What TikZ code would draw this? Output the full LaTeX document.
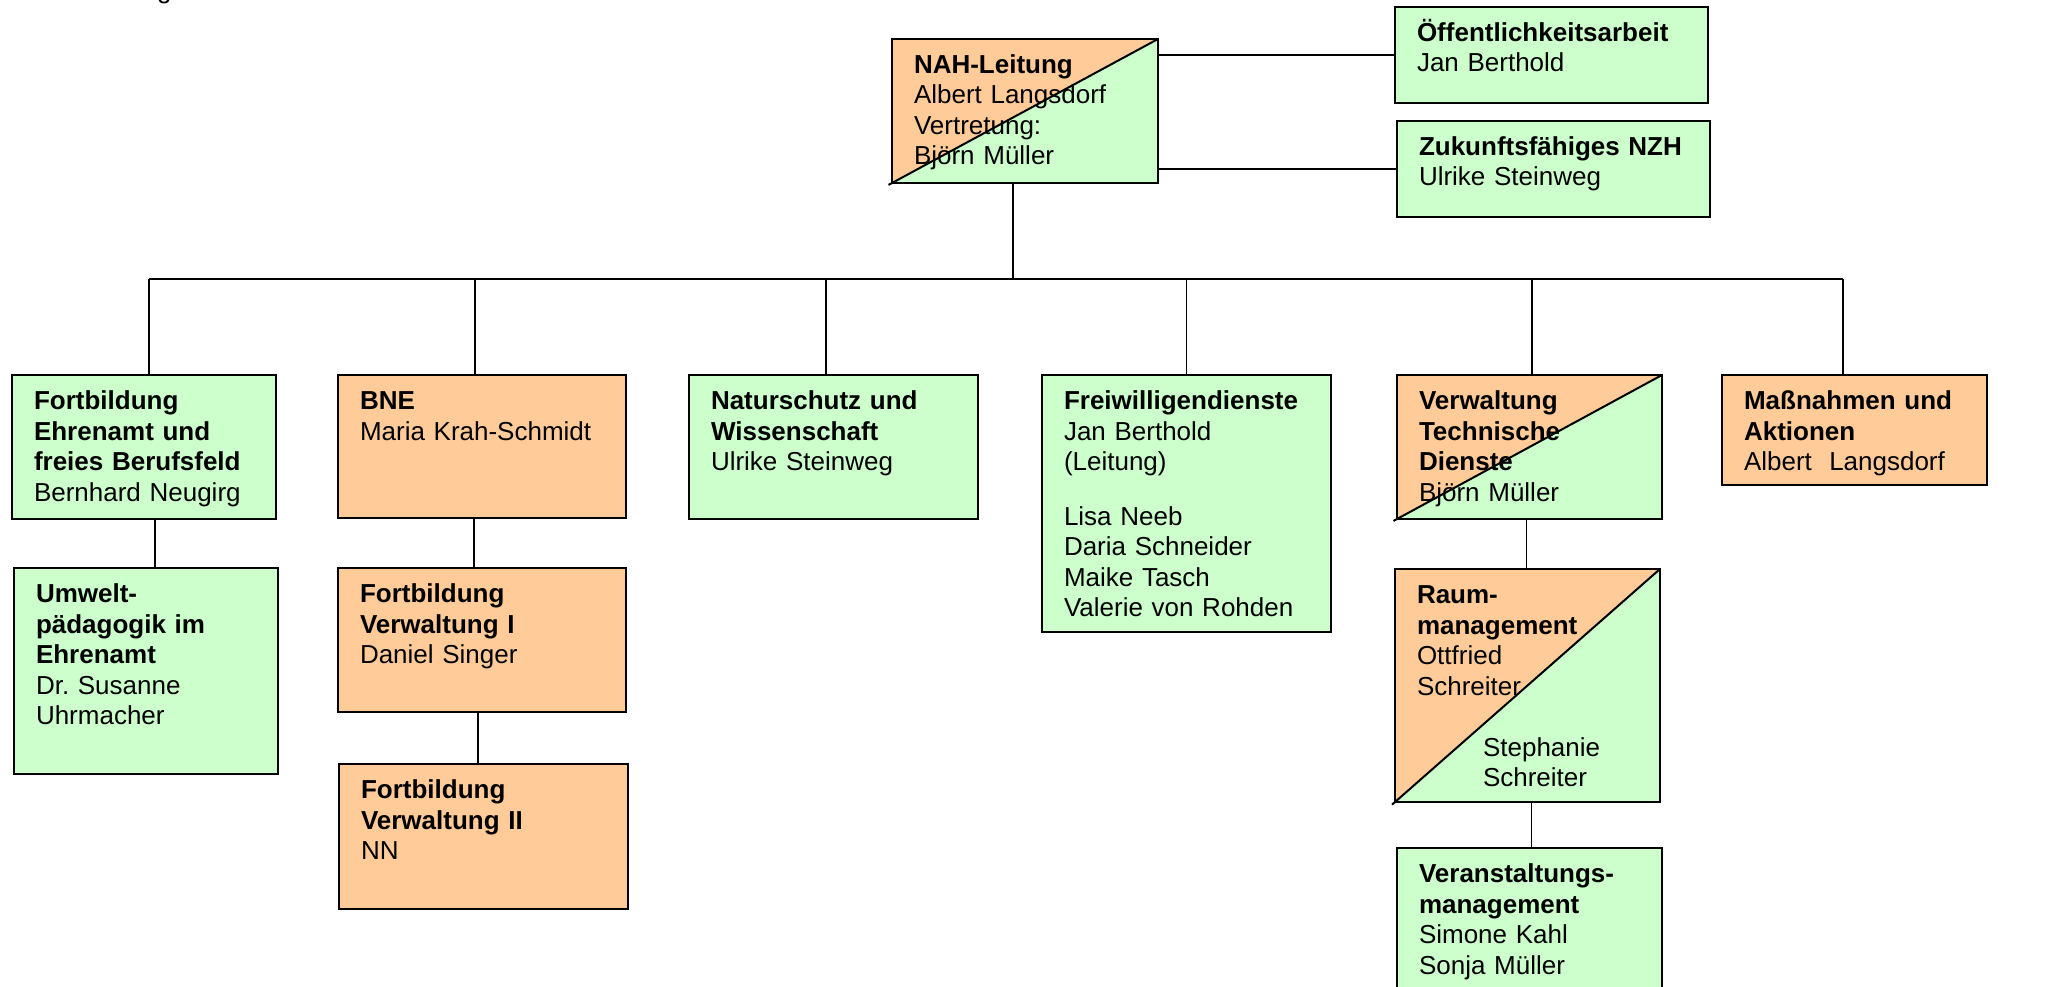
\documentclass[tikz,border=0pt]{standalone}
\usepackage{fontspec}
\setmainfont{Liberation Sans}
\usetikzlibrary{backgrounds}
\definecolor{peach}{RGB}{255,204,153}
\definecolor{mint}{RGB}{204,255,204}
\tikzset{
    unit/.style={draw, line width=2.2pt, anchor=north west, inner xsep=22pt,
        inner ysep=0pt, outer sep=0pt, align=left, text height=34.5pt,
        font=\fontsize{26pt}{30.5pt}\selectfont},
    peachbox/.style={unit, fill=peach},
    mintbox/.style={unit, fill=mint},
    link/.style={line width=1.5pt}
}
\begin{document}
\begin{tikzpicture}[x=1pt, y=-1pt]
    \useasboundingbox (0,0) rectangle (2060,987);
    % cut off title
    \node [anchor=base west, inner sep=0pt, font=\fontsize{26pt}{30.5pt}\selectfont] (title) at (157,-1.5) {g};
    % head and side units
    \node [unit, text width=222pt, text depth=109.5pt] (nah) at (892,39)
        {\textbf{NAH-Leitung}\\Albert Langsdorf\\Vertretung:\\Björn Müller};
    \node [mintbox, text width=269pt, text depth=61.5pt] (oeff) at (1395,7)
        {\textbf{Öffentlichkeitsarbeit}\\Jan Berthold};
    \node [mintbox, text width=269pt, text depth=61.5pt] (zuk) at (1397,121)
        {\textbf{Zukunftsfähiges NZH}\\Ulrike Steinweg};
    % departments
    \node [mintbox, text width=220pt, text depth=109.5pt] (fort) at (12,375)
        {\textbf{Fortbildung}\\\textbf{Ehrenamt und}\\\textbf{freies Berufsfeld}\\Bernhard Neugirg};
    \node [peachbox, text width=244pt, text depth=108.5pt] (bne) at (338,375)
        {\textbf{BNE}\\Maria Krah-Schmidt};
    \node [mintbox, text width=245pt, text depth=109.5pt] (natur) at (689,375)
        {\textbf{Naturschutz und}\\\textbf{Wissenschaft}\\Ulrike Steinweg};
    \node [mintbox, text width=245pt, text depth=222.5pt] (frei) at (1042,375)
        {\textbf{Freiwilligendienste}\\Jan Berthold\\(Leitung)\\[24pt]Lisa Neeb\\Daria Schneider\\Maike Tasch\\Valerie von Rohden};
    \node [unit, text width=221pt, text depth=109.5pt] (verw) at (1397,375)
        {\textbf{Verwaltung}\\\textbf{Technische}\\\textbf{Dienste}\\Björn Müller};
    \node [peachbox, text width=221pt, text depth=75.5pt] (mass) at (1722,375)
        {\textbf{Maßnahmen und}\\\textbf{Aktionen}\\Albert\ \ Langsdorf};
    % sub units
    \node [mintbox, text width=220pt, text depth=171.5pt] (umw) at (14,568)
        {\textbf{Umwelt-}\\\textbf{pädagogik im}\\\textbf{Ehrenamt}\\Dr.\ Susanne\\Uhrmacher};
    \node [peachbox, text width=244pt, text depth=109.5pt] (fv1) at (338,568)
        {\textbf{Fortbildung}\\\textbf{Verwaltung I}\\Daniel Singer};
    \node [peachbox, text width=245pt, text depth=110.5pt] (fv2) at (339,764)
        {\textbf{Fortbildung}\\\textbf{Verwaltung II}\\NN};
    \node [unit, text width=221pt, text depth=198.5pt] (raum) at (1395,569)
        {\textbf{Raum-}\\\textbf{management}\\Ottfried\\Schreiter\\[30.5pt]\hspace*{66pt}Stephanie\\\hspace*{66pt}Schreiter};
    \node [mintbox, text width=221pt, text depth=135.5pt] (veran) at (1397,848)
        {\textbf{Veranstaltungs-}\\\textbf{management}\\Simone Kahl\\Sonja Müller};
    % split units
    \begin{scope}[on background layer]
        \foreach \n in {nah, verw, raum} {
            \fill [peach] (\n.north west) rectangle (\n.south east);
            \fill [mint] (\n.south west) -- (\n.south east) -- (\n.north east) -- cycle;
            \draw [line width=2pt, shorten <=-4pt] (\n.south west) -- (\n.north east);
        }
    \end{scope}
    % connectors
    \draw [link] (nah.east |- oeff.west) -- (oeff.west);
    \draw [link] (nah.east |- zuk.west) -- (zuk.west);
    \coordinate (hub) at (1013,279);
    \draw [link] (hub |- nah.south) -- (hub);
    \draw [link] ([xshift=5pt]fort.north |- hub) -- ([xshift=-11.5pt]mass.north |- hub);
    \foreach \n/\dx in {fort/5, bne/-7, natur/-7.5, frei/0, verw/2.5, mass/-11.5}
        \draw [link] ([xshift=\dx pt]\n.north) -- ([xshift=\dx pt]\n.north |- hub);
    \draw [link] ([xshift=11pt]fort.south) -- ([xshift=11pt]fort.south |- umw.north);
    \draw [link] ([xshift=-8pt]bne.south) -- ([xshift=-8pt]bne.south |- fv1.north);
    \draw [link] ([xshift=-4pt]fv1.south) -- ([xshift=-4pt]fv1.south |- fv2.north);
    \draw [link] ([xshift=-3pt]verw.south) -- ([xshift=-3pt]verw.south |- raum.north);
    \draw [link] ([xshift=4pt]raum.south) -- ([xshift=4pt]raum.south |- veran.north);
\end{tikzpicture}
\end{document}
